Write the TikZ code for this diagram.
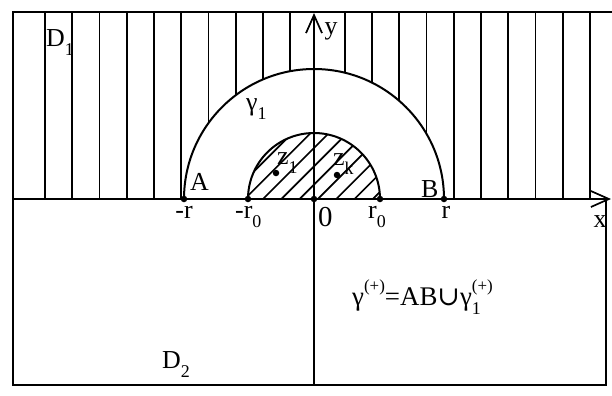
\documentclass[tikz,border=0pt]{standalone}
\usepackage{fontspec}
\setmainfont{Liberation Serif}
\newfontfamily\symf{DejaVu Serif}
\usetikzlibrary{arrows.meta}
\newcommand\lsub[1]{\raisebox{-0.36em}{\fontsize{18}{18}\selectfont #1}}
\newcommand\lsupx[1]{\raisebox{0.5em}{\fontsize{17}{17}\selectfont #1}}
\begin{document}
\begin{tikzpicture}[x=1bp,y=-1bp,
  lbl/.style={inner sep=0pt, font=\fontsize{26}{30}\selectfont},
  frame/.style={line width=2bp},
  curve/.style={line width=2bp},
  hatch/.style={line width=1.7bp},
  pt/.style={circle, fill=black, inner sep=0pt, minimum size=6.5bp},
  axarrow/.style={-{Straight Barb[length=18bp,width=16bp,line width=1.7bp]}}]
\useasboundingbox (0,0) rectangle (612,395);
% frame
\coordinate (TL) at (13,12);
\coordinate (TR) at (612,12);
\coordinate (BL) at (13,385);
\coordinate (BR) at (606,385);
\coordinate (RA) at (606,199);
\draw[frame] (TR) -- (TL) -- (BL) -- (BR) -- (RA);
% vertical hatching of D1
\foreach \k in {0,...,20}{
  \ifnum\k=10 \else
    \pgfmathsetmacro\xx{45+27.25*\k}
    \pgfmathsetmacro\dx{\xx-314}
    \pgfmathsetmacro\yy{abs(\dx)<130 ? 199-130*sqrt(max(0,1-(\dx/130)^2)) : 199}
    \draw[hatch] (\xx,12) -- (\xx,\yy);
  \fi
}
% inner half disc with diagonal hatching
\begin{scope}
  \clip (248,199) arc[start angle=180,end angle=360,radius=66] -- cycle;
  \foreach \k in {-5,...,7}{
    \pgfmathsetmacro\xo{263+18.3*\k}
    \draw[hatch] (\xo,199) -- ++(90,-90);
  }
\end{scope}
\draw[curve] (248,199) arc[start angle=180,end angle=360,radius=66];
% outer semicircle
\draw[curve] (184,199) arc[start angle=180,end angle=360,radius=130];
% axes
\coordinate (XL) at (13,199);
\coordinate (XR) at (611,199);
\coordinate (YB) at (314,385);
\coordinate (YT) at (314,13);
\draw[frame, axarrow] (XL) -- (XR);
\draw[frame, axarrow] (YB) -- (YT);
% points
\node[pt] (mr) at (184,199) {};
\node[pt] (mr0) at (248,199) {};
\node[pt] (o) at (314,199) {};
\node[pt] (r0) at (380,199) {};
\node[pt] (r) at (444,199) {};
\node[pt] (z1) at (276,173) {};
\node[pt] (zk) at (337,175) {};
% labels
\node[lbl, anchor=base west] (D1) at (46,46) {D\lsub{1}};
\node[lbl, anchor=base west] (D2) at (162,368) {D\lsub{2}};
\node[lbl, anchor=base west] (A) at (190,190) {A};
\node[lbl, anchor=base west] (B) at (421,197) {B};
\node[lbl, anchor=base west] (g1) at (246,110) {γ\lsub{1}};
\node[lbl, anchor=base west] (lz1) at (277,164) {z\lsub{1}};
\node[lbl, anchor=base west] (lzk) at (333,165) {z\lsub{k}};
\node[lbl, anchor=base] (lmr) at (184,218) {-r};
\node[lbl, anchor=base west] (lmr0) at (235,218) {-r\lsub{0}};
\node[lbl, anchor=base west, font=\fontsize{29}{30}\selectfont] (lo) at (318,226) {0};
\node[lbl, anchor=base west] (lr0) at (368,218) {r\lsub{0}};
\node[lbl, anchor=base] (lr) at (446,218) {r};
\node[lbl] (lx) at (600,222) {x};
\node[lbl] (ly) at (331,31) {y};
\node[lbl, anchor=base west, font=\fontsize{27}{30}\selectfont] (form) at (352,305)
  {γ\lsupx{(+)}=AB{\symf ∪}γ\rlap{\lsub{1}}\lsupx{(+)}};
\end{tikzpicture}
\end{document}
